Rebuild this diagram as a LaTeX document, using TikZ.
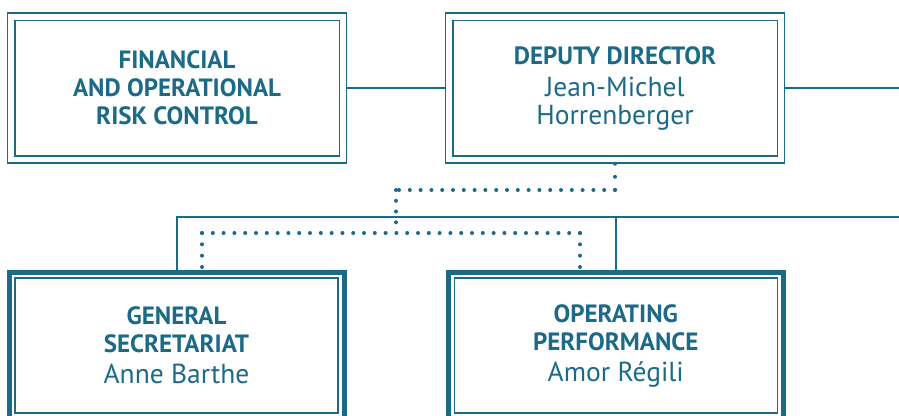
\documentclass[tikz,border=0pt]{standalone}
\usepackage{fontspec}
\setmainfont{PT Sans}
\definecolor{orgteal}{RGB}{28,106,135}
\newcommand{\unitname}[1]{{\fontsize{25}{28}\selectfont\bfseries #1}}
\newcommand{\headname}[1]{{\fontsize{27.5}{32}\selectfont #1}}
\tikzset{
  unitbox/.style={draw=orgteal, line width=1.5pt, minimum width=339pt, minimum height=150pt,
    inner sep=0pt, align=center, text=orgteal, font=\fontsize{25}{28}\selectfont},
  headbox/.style={unitbox, line width=5pt, minimum width=335pt, minimum height=147pt},
  frame/.style={draw=orgteal, line width=1.5pt},
  link/.style={draw=orgteal, line width=2pt},
  dotlink/.style={draw=orgteal, line width=4pt, line cap=round, dash pattern=on 0pt off #1},
  dotlink/.default=10.8pt
}
\begin{document}
\begin{tikzpicture}[x=1pt,y=1pt,yscale=-1,xscale=1]
    \useasboundingbox (0,0) rectangle (899,415);
    \clip (0,0) rectangle (899,415);
    % Unit Boxes
    \node[unitbox] (fin) at (177,88) {\unitname{FINANCIAL}\\\unitname{AND OPERATIONAL}\\\unitname{RISK CONTROL}};
    \node[unitbox] (dep) at (615,88) {\unitname{DEPUTY DIRECTOR}\\[4pt]\headname{Jean-Michel}\\\headname{Horrenberger}};
    \node[headbox] (sec) at (176.5,345.5) {\unitname{GENERAL}\\\unitname{SECRETARIAT}\\[3pt]\headname{Anne Barthe}};
    \node[headbox] (ops) at (615.75,345.5) {\unitname{OPERATING}\\\unitname{PERFORMANCE}\\[3pt]\headname{Amor Régili}};
    % Inner Frames
    \foreach \n in {fin,dep}
      \draw[frame] ([shift={(8,8)}]\n.north west) rectangle ([shift={(-8,-8)}]\n.south east);
    \foreach \n in {sec,ops}
      \draw[frame] ([shift={(8.5,8.5)}]\n.north west) rectangle ([shift={(-8.5,-8.5)}]\n.south east);
    % Solid Links
    \coordinate (rightA) at (899,88);
    \coordinate (busR) at (899,217);
    \draw[link] (fin) -- (dep);
    \draw[link] (dep) -- (rightA);
    \draw[link] (sec.north) |- (busR);
    \draw[link] (ops.north) -- (ops.north |- busR);
    % Dotted Links
    \coordinate (dotT) at (396,190);
    \coordinate (dotL) at (202,233);
    \coordinate (dotR) at (580,233);
    \draw[dotlink=13pt] (dep.south) -- (dep.south |- dotT);
    \draw[dotlink] (dep.south |- dotT) -- (dotT);
    \draw[dotlink=10.75pt] (dotT) -- (dotT |- dotL);
    \draw[dotlink] (dotL) -- (dotR);
    \draw[dotlink=11.33pt] (dotL) -- (dotL |- sec.north);
    \draw[dotlink=11.33pt] (dotR) -- (dotR |- ops.north);
\end{tikzpicture}
\end{document}
